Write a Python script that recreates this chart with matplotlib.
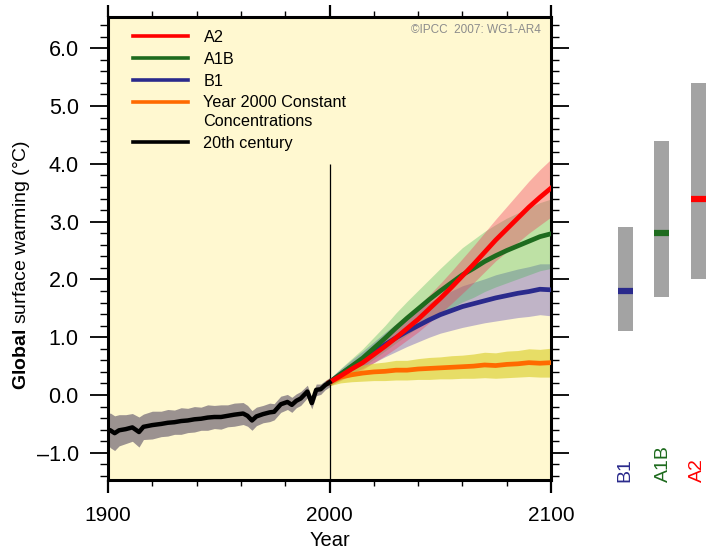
import numpy as np
import matplotlib.pyplot as plt
from matplotlib.lines import Line2D
from matplotlib.legend_handler import HandlerLine2D

plt.rcParams['font.family'] = ['Liberation Sans', 'DejaVu Sans']
plt.rcParams['mathtext.fontset'] = 'custom'
plt.rcParams['mathtext.rm'] = 'Liberation Sans'
plt.rcParams['mathtext.bf'] = 'Liberation Sans:bold'

# 20th century (observed-forcing runs)
years_20c = [1900, 1901, 1903, 1905, 1908, 1911, 1914, 1916, 1920, 1924,
             1927, 1930, 1933, 1936, 1939, 1942, 1945, 1948, 1951, 1954,
             1957, 1961, 1963, 1965, 1967, 1970, 1973, 1975, 1978, 1981,
             1983, 1985, 1987, 1990, 1992, 1994, 1996, 1998, 2000]
temp_20c = [-0.60, -0.61, -0.66, -0.61, -0.59, -0.56, -0.64, -0.55, -0.52, -0.50,
            -0.48, -0.47, -0.45, -0.44, -0.42, -0.41, -0.39, -0.38, -0.38, -0.36,
            -0.34, -0.32, -0.36, -0.44, -0.37, -0.33, -0.30, -0.29, -0.16, -0.12,
            -0.17, -0.10, -0.06, 0.06, -0.14, 0.09, 0.10, 0.17, 0.22]
spread_20c = [0.26, 0.30, 0.30, 0.27, 0.25, 0.24, 0.26, 0.22, 0.24, 0.22,
              0.23, 0.21, 0.23, 0.21, 0.22, 0.20, 0.22, 0.20, 0.21, 0.19,
              0.20, 0.19, 0.18, 0.17, 0.16, 0.15, 0.16, 0.14, 0.14, 0.13,
              0.13, 0.12, 0.12, 0.11, 0.10, 0.10, 0.09, 0.08, 0.08]

# 21st century projections
years_21c = [2000, 2005, 2010, 2015, 2020, 2025, 2030, 2035, 2040, 2045,
             2050, 2055, 2060, 2065, 2070, 2075, 2080, 2085, 2090, 2095, 2100]
a2 = [0.22, 0.33, 0.45, 0.56, 0.70, 0.84, 0.99, 1.15, 1.31, 1.49,
      1.67, 1.86, 2.06, 2.26, 2.47, 2.68, 2.87, 3.06, 3.25, 3.42, 3.58]
a2_sd = [0.06, 0.08, 0.10, 0.12, 0.14, 0.16, 0.18, 0.20, 0.22, 0.24,
         0.26, 0.28, 0.30, 0.32, 0.34, 0.36, 0.39, 0.42, 0.45, 0.48, 0.50]
a1b = [0.22, 0.36, 0.50, 0.64, 0.81, 0.98, 1.16, 1.33, 1.49, 1.65,
       1.80, 1.94, 2.08, 2.19, 2.31, 2.41, 2.50, 2.58, 2.66, 2.74, 2.79]
a1b_sd = [0.06, 0.10, 0.13, 0.16, 0.19, 0.22, 0.26, 0.29, 0.32, 0.35,
          0.39, 0.43, 0.47, 0.50, 0.52, 0.54, 0.56, 0.57, 0.58, 0.59, 0.60]
b1 = [0.22, 0.36, 0.49, 0.61, 0.74, 0.87, 0.99, 1.10, 1.20, 1.30,
      1.39, 1.46, 1.53, 1.58, 1.63, 1.68, 1.72, 1.76, 1.79, 1.83, 1.82]
b1_sd = [0.06, 0.09, 0.12, 0.15, 0.18, 0.21, 0.24, 0.26, 0.28, 0.30,
         0.32, 0.34, 0.36, 0.37, 0.38, 0.40, 0.41, 0.42, 0.43, 0.44, 0.45]
const = [0.22, 0.31, 0.35, 0.38, 0.40, 0.41, 0.43, 0.43, 0.45, 0.46,
         0.47, 0.48, 0.49, 0.50, 0.52, 0.51, 0.53, 0.54, 0.56, 0.55, 0.56]
const_sd = [0.06, 0.10, 0.12, 0.14, 0.15, 0.16, 0.17, 0.17, 0.18, 0.19,
            0.19, 0.20, 0.20, 0.21, 0.22, 0.22, 0.23, 0.23, 0.24, 0.24, 0.25]

# likely ranges at 2090-2099 (right panel)
scen_names = ['B1', 'A1B', 'A2']
likely_low = [1.1, 1.7, 2.0]
likely_high = [2.9, 4.4, 5.4]
best_est = [1.8, 2.8, 3.4]

c_a2, c_a1b, c_b1, c_const = '#FF0000', '#1E6B1E', '#2A2A8C', '#FF6A00'
scen_colors = [c_b1, c_a1b, c_a2]

ylo, yhi = -1.47, 6.54


class TopLine(HandlerLine2D):
    # put the handle next to the first line of a two-line label
    def create_artists(self, legend, orig_handle, xdescent, ydescent, width, height, fontsize, trans):
        arts = super().create_artists(legend, orig_handle, xdescent, ydescent,
                                      width, height, fontsize, trans)
        for a in arts:
            a.set_ydata(np.asarray(a.get_ydata()) + 7.5)
        return arts


fig = plt.figure(figsize=(7.07, 5.52), dpi=100)
ax = fig.add_axes([108 / 707, 1 - 480 / 552, 443 / 707, 463 / 552])
ax.set_facecolor('#FFF8D0')

t21 = np.array(years_21c)
for vals, sd, col, a in [(b1, b1_sd, '#6A58BC', 0.42),
                         (a1b, a1b_sd, '#3CB450', 0.33),
                         (a2, a2_sd, '#F03A5C', 0.38),
                         (const, const_sd, '#D8CC20', 0.6)]:
    v, s = np.array(vals), np.array(sd)
    ax.fill_between(t21, v - s, v + s, color=col, alpha=a, lw=0)

t20, v20, s20 = np.array(years_20c), np.array(temp_20c), np.array(spread_20c)
ax.fill_between(t20, v20 - s20, v20 + s20, color='#9B9290', lw=0)

ax.vlines(2000, ylo, 4.0, color='black', lw=0.9, zorder=3)

ax.plot(t21, const, color=c_const, lw=3.4, zorder=4)
ax.plot(t21, b1, color=c_b1, lw=3.4, zorder=4)
ax.plot(t21, a1b, color=c_a1b, lw=3.4, zorder=4)
ax.plot(t21, a2, color=c_a2, lw=3.4, zorder=4)
ax.plot(t20, v20, color='black', lw=3.2, zorder=4)

ax.set_xlim(1900, 2100)
ax.set_ylim(ylo, yhi)
ax.set_xticks([1900, 2000, 2100])
ax.set_xticks(np.arange(1900, 2101, 20), minor=True)
ax.set_yticks(np.arange(-1, 6.5, 1.0))
ax.set_yticks(np.arange(-1.4, 6.5, 0.2), minor=True)
ax.set_yticklabels(['%.1f' % v if v >= 0 else '\u2013%.1f' % -v for v in np.arange(-1, 6.5, 1.0)])
ax.tick_params(axis='y', which='major', direction='out', length=13, width=1.3,
               labelsize=15.5, pad=8, right=True)
ax.tick_params(axis='y', which='minor', direction='out', length=6, width=1.0, right=True)
ax.tick_params(axis='x', which='major', direction='out', length=9, width=1.6,
               labelsize=15, pad=10, top=True)
ax.tick_params(axis='x', which='minor', direction='out', length=4, width=1.0, top=True)
for sp in ax.spines.values():
    sp.set_linewidth(2.2)

handles = [Line2D([], [], color=c_a2, lw=2.6),
           Line2D([], [], color=c_a1b, lw=2.6),
           Line2D([], [], color=c_b1, lw=2.6),
           Line2D([], [], color=c_const, lw=2.6),
           Line2D([], [], color='black', lw=2.6)]
labels = ['A2', 'A1B', 'B1', 'Year 2000 Constant\nConcentrations', '20th century']
leg = ax.legend(handles, labels, loc='upper left', bbox_to_anchor=(0.056, 0.972),
                frameon=False, fontsize=11.7, handlelength=3.4, handletextpad=0.95,
                labelspacing=0.42, borderpad=0, borderaxespad=0,
                handler_map={handles[3]: TopLine()})
for t in leg.get_texts():
    t.set_linespacing(1.3)

ax.text(0.977, 0.972, '\u00a9IPCC  2007: WG1-AR4', transform=ax.transAxes,
        ha='right', va='center', fontsize=8.5, color='#8C8C8C')

fig.text(22 / 707, 1 - 265 / 552, r'$\mathbf{Global}$' + ' surface warming (\u00b0C)',
         rotation=90, ha='center', va='center', fontsize=14)
fig.text(330 / 707, 1 - 541 / 552, 'Year', ha='center', va='center', fontsize=14.5)

# right panel: likely ranges and best estimates
ax2 = fig.add_axes([599.4 / 707, 1 - 480 / 552, 107.6 / 707, 463 / 552])
ax2.set_xlim(-0.7, 2.23)
ax2.set_ylim(ylo, yhi)
ax2.axis('off')
xpos = np.arange(len(scen_names))
bw = 0.405
lo, hi = np.array(likely_low), np.array(likely_high)
ax2.bar(xpos, hi - lo, bottom=lo, width=bw, color='#A3A3A3')
ax2.hlines(best_est, xpos - bw / 2, xpos + bw / 2, colors=scen_colors, lw=4.5)

for i, (name, col) in enumerate(zip(scen_names, scen_colors)):
    fig.text([625, 663, 697][i] / 707, 1 - 482 / 552, name, rotation=90,
             ha='center', va='bottom', fontsize=14, color=col)

fig.savefig('out.png', dpi=100)
